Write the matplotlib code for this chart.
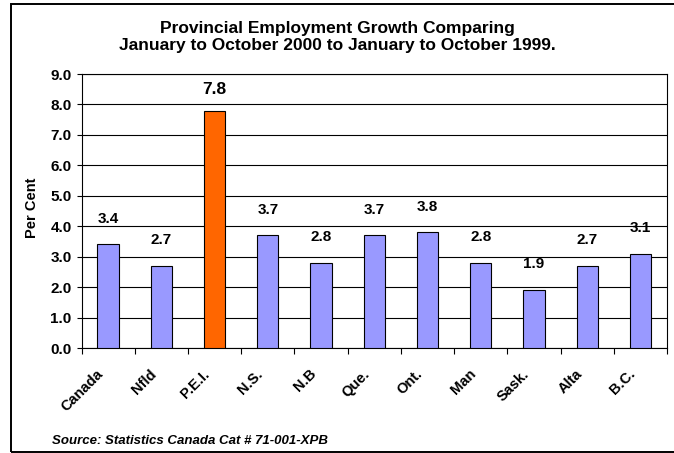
import matplotlib
matplotlib.use('Agg')
import matplotlib.pyplot as plt
from matplotlib.patches import Rectangle
from matplotlib.transforms import ScaledTranslation

provinces = ['Canada', 'Nfld', 'P.E.I.', 'N.S.', 'N.B', 'Que.', 'Ont.', 'Man', 'Sask.', 'Alta', 'B.C.']
growth = [3.4, 2.7, 7.8, 3.7, 2.8, 3.7, 3.8, 2.8, 1.9, 2.7, 3.1]
highlight = 'P.E.I.'
yticks = [0.0, 1.0, 2.0, 3.0, 4.0, 5.0, 6.0, 7.0, 8.0, 9.0]

plt.rcParams['font.family'] = ['Liberation Sans', 'DejaVu Sans']

fig = plt.figure(figsize=(6.74, 4.53), dpi=100)
W, H = 674, 453
ax = fig.add_axes([81.5 / W, 1 - 348 / H, (667 - 81.5) / W, (348 - 74) / H])

colors = ['#FF6600' if p == highlight else '#9999FF' for p in provinces]
x = range(len(provinces))
ax.bar(x, growth, width=0.4, color=colors, edgecolor='black', linewidth=0.8, zorder=3)

# value labels above each bar
for i, v in enumerate(growth):
    big = provinces[i] == highlight
    ax.annotate('%.1f' % v, (i, v), xytext=(0, 15 if big else 18.5), textcoords='offset points',
                ha='center', va='center', fontsize=12.5 if big else 11, fontweight='bold')

ax.set_xlim(-0.5, len(provinces) - 0.5)
ax.set_ylim(0, 9)
ax.set_yticks(yticks)
ax.set_yticklabels(['%.1f' % t for t in yticks], fontsize=11, fontweight='bold')
ax.yaxis.grid(True, color='black', linewidth=0.8, zorder=0)
ax.set_xticks([i - 0.5 for i in range(len(provinces) + 1)])
ax.set_xticklabels([])
ax.set_xticks(list(x), minor=True)
ax.set_xticklabels(provinces, minor=True, rotation=45, ha='right', va='center',
                   rotation_mode='anchor', fontsize=10.5, fontweight='bold')
ax.tick_params(axis='x', which='minor', length=0, pad=17)
ax.tick_params(axis='x', which='major', length=4, direction='out')
ax.tick_params(axis='y', length=3.6, direction='out', pad=3.5)
shift = ScaledTranslation(-5 / 72, 0, fig.dpi_scale_trans)
for lbl in ax.get_xticklabels(minor=True):
    lbl.set_transform(lbl.get_transform() + shift)
for s in ax.spines.values():
    s.set_linewidth(0.8)

fig.text(32 / W, 1 - 208 / H, 'Per Cent', rotation=90, ha='center', va='center',
         fontsize=10.5, fontweight='bold')
fig.text(0.5, 1 - 37 / H,
         'Provincial Employment Growth Comparing\nJanuary to October 2000 to January to October 1999.',
         ha='center', va='center', fontsize=12.5, fontweight='bold', linespacing=1.15)
fig.text(52 / W, 1 - 441 / H, 'Source: Statistics Canada Cat # 71-001-XPB',
         ha='left', va='center', fontsize=9.5, fontweight='bold', style='italic')

# outer frame, open on the right
fig.patches.append(Rectangle((11 / W, 1 - 452 / H), (700 - 11) / W, (452 - 4) / H,
                             transform=fig.transFigure, fill=False, edgecolor='black',
                             linewidth=1.4, clip_on=False))

fig.savefig('out.png', dpi=100)
